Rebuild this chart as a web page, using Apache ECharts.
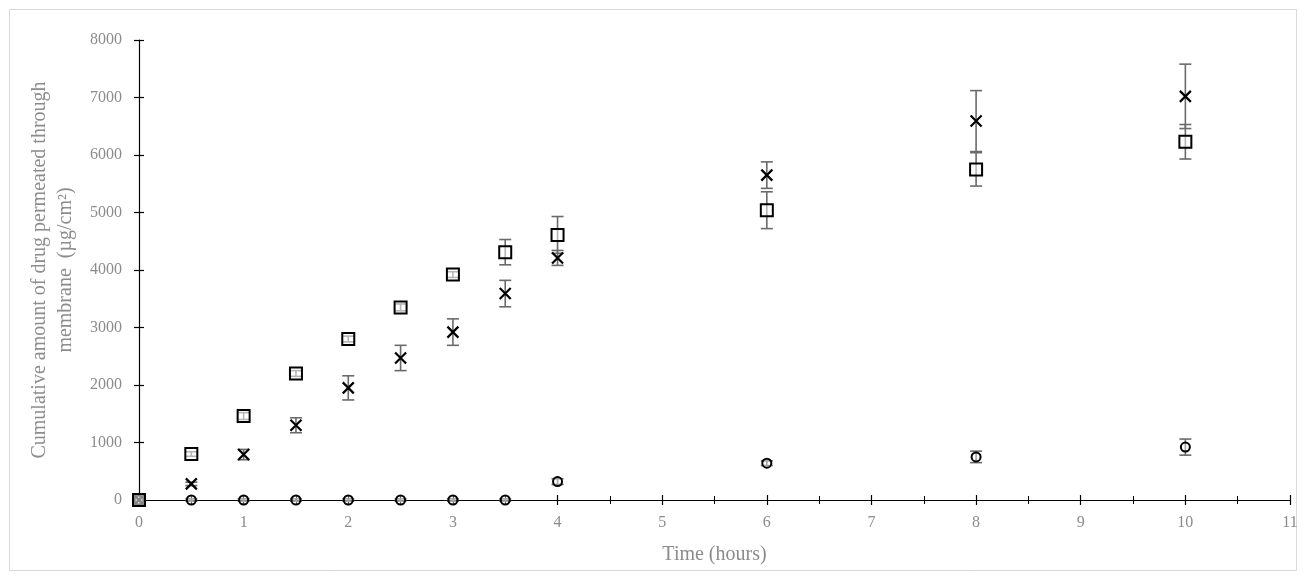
<!DOCTYPE html>
<html>
<head>
<meta charset="utf-8">
<script src="https://cdn.jsdelivr.net/npm/echarts@6/dist/echarts.min.js"></script>
<style>
html,body{margin:0;padding:0;background:#fff;}
#c{width:1306px;height:580px;}
</style>
</head>
<body>
<div id="c"></div>
<script>
// ---- data ----
var time = [0, 0.5, 1, 1.5, 2, 2.5, 3, 3.5, 4, 6, 8, 10];
var squareVals = [0, 800, 1460, 2200, 2800, 3350, 3920, 4310, 4610, 5040, 5750, 6230];
var squareErr  = [0, 40, 60, 50, 50, 60, 50, 220, 320, 320, 290, 300];
var crossVals  = [0, 280, 790, 1300, 1950, 2470, 2920, 3590, 4210, 5650, 6590, 7020];
var crossErr   = [0, 30, 90, 130, 210, 220, 230, 230, 130, 230, 530, 560];
var circleVals = [0, 0, 0, 0, 0, 0, 0, 0, 320, 640, 750, 920];
var circleErr  = [0, 20, 20, 20, 20, 20, 20, 20, 50, 40, 100, 140];
var xTitle = 'Time (hours)';
var yTitle = 'Cumulative amount of drug permeated through\nmembrane  (\u00b5g/cm\u00b2)';

var FONT = 'Liberation Serif';
var GRAY = '#8c8c8c';

function pts(vals) { return time.map(function (t, i) { return [t, vals[i]]; }); }
function errData(vals, errs) { return time.map(function (t, i) { return [t, vals[i] - errs[i], vals[i] + errs[i]]; }); }

function errSeries(vals, errs) {
  return {
    type: 'custom',
    xAxisIndex: 0, yAxisIndex: 0,
    z: 2,
    silent: true,
    data: errData(vals, errs),
    renderItem: function (params, api) {
      var x = api.value(0);
      var lo = api.coord([x, api.value(1)]);
      var hi = api.coord([x, api.value(2)]);
      var w = 6;
      var st = { stroke: '#6a6a6a', lineWidth: 1.6 };
      return {
        type: 'group',
        children: [
          { type: 'line', shape: { x1: lo[0], y1: lo[1], x2: hi[0], y2: hi[1] }, style: st },
          { type: 'line', shape: { x1: lo[0] - w, y1: lo[1], x2: lo[0] + w, y2: lo[1] }, style: st },
          { type: 'line', shape: { x1: hi[0] - w, y1: hi[1], x2: hi[0] + w, y2: hi[1] }, style: st }
        ]
      };
    }
  };
}

var axisLabelStyle = { color: GRAY, fontFamily: FONT, fontSize: 16 };

var option = {
  animation: false,
  backgroundColor: '#fff',
  graphic: [{
    type: 'rect', shape: { x: 9.5, y: 9.5, width: 1287, height: 561 },
    style: { fill: 'none', stroke: '#d9d9d9', lineWidth: 1 }, z: -1
  }],
  grid: { left: 139, right: 16, top: 40, bottom: 80 },
  xAxis: [{
    type: 'value', min: 0, max: 11, interval: 1,
    name: xTitle, nameLocation: 'middle', nameGap: 45,
    nameTextStyle: { color: GRAY, fontFamily: FONT, fontSize: 20 },
    axisLine: { show: true, onZero: false, lineStyle: { color: '#000', width: 1.2 } },
    axisTick: { show: true, inside: false, length: 5, lineStyle: { color: '#000', width: 1.2 } },
    minorTick: { show: true, splitNumber: 2, length: 4, lineStyle: { color: '#000', width: 1 } },
    axisLabel: Object.assign({ margin: 15, formatter: function (v) { return String(v); } }, axisLabelStyle),
    splitLine: { show: false }
  }, {
    type: 'value', min: 0, max: 11, interval: 1, position: 'bottom', offset: 0,
    axisLine: { show: false, onZero: false },
    axisTick: { show: true, inside: true, length: 5, lineStyle: { color: '#000', width: 1.2 } },
    minorTick: { show: true, splitNumber: 2, length: 4, lineStyle: { color: '#000', width: 1 } },
    axisLabel: { show: false },
    splitLine: { show: false }
  }],
  yAxis: [{
    type: 'value', min: 0, max: 8000, interval: 1000,
    name: yTitle, nameLocation: 'middle', nameGap: 60, nameRotate: 90,
    nameTextStyle: { color: GRAY, fontFamily: FONT, fontSize: 20, lineHeight: 26, align: 'center' },
    axisLine: { show: true, onZero: false, lineStyle: { color: '#000', width: 1.2 } },
    axisTick: { show: true, inside: false, length: 5, lineStyle: { color: '#000', width: 1.2 } },
    axisLabel: Object.assign({ margin: 17, formatter: function (v) { return String(v); } }, axisLabelStyle),
    splitLine: { show: false }
  }, {
    type: 'value', min: 0, max: 8000, interval: 1000, position: 'left', offset: 0,
    axisLine: { show: false, onZero: false },
    axisTick: { show: true, inside: true, length: 5, lineStyle: { color: '#000', width: 1.2 } },
    axisLabel: { show: false },
    splitLine: { show: false }
  }],
  series: [
    errSeries(circleVals, circleErr),
    errSeries(crossVals, crossErr),
    errSeries(squareVals, squareErr),
    {
      type: 'scatter', name: 'circle', z: 3, data: pts(circleVals),
      symbol: 'circle', symbolSize: 9,
      itemStyle: { color: 'rgba(255,255,255,0.4)', borderColor: '#000', borderWidth: 2, opacity: 1 }
    },
    {
      type: 'scatter', name: 'cross', z: 4, data: pts(crossVals),
      symbol: 'path://M0,0L10,10M10,0L0,10', symbolSize: 11,
      itemStyle: { color: 'none', borderColor: '#000', borderWidth: 2.2, opacity: 1 }
    },
    {
      type: 'scatter', name: 'square', z: 5, data: pts(squareVals),
      symbol: 'rect', symbolSize: 12,
      itemStyle: { color: 'rgba(255,255,255,0.5)', borderColor: '#000', borderWidth: 2, opacity: 1 }
    }
  ]
};

var chart = echarts.init(document.getElementById('c'), null, { renderer: 'canvas' });
chart.setOption(option);
</script>
</body>
</html>
